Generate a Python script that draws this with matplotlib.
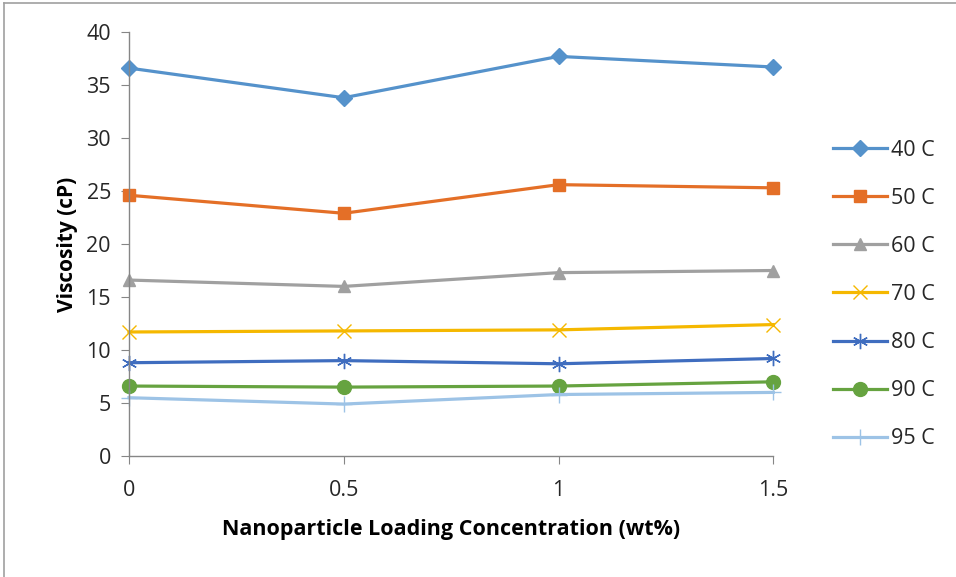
import matplotlib
matplotlib.use("Agg")
from matplotlib import pyplot as plt
from matplotlib.lines import Line2D

plt.rcParams['font.family'] = ['Open Sans', 'DejaVu Sans']

loading = [0, 0.5, 1, 1.5]
etiquetas = ["40 C", "50 C", "60 C", "70 C", "80 C", "90 C", "95 C"]
visc_40 = [36.6, 33.8, 37.7, 36.7]
visc_50 = [24.6, 22.9, 25.6, 25.3]
visc_60 = [16.6, 16.0, 17.3, 17.5]
visc_70 = [11.7, 11.8, 11.9, 12.4]
visc_80 = [8.8, 9.0, 8.7, 9.2]
visc_90 = [6.6, 6.5, 6.6, 7.0]
visc_95 = [5.5, 4.9, 5.8, 6.0]
series = [visc_40, visc_50, visc_60, visc_70, visc_80, visc_90, visc_95]

cores = ["#5592CB", "#E46F27", "#A0A0A0", "#F5B800", "#3F6DBF", "#66A340", "#9DC3E6"]
marcadores = ["D", "s", "^", "x", (6, 2, 0), "o", "+"]
tamanhos = [8, 9, 9, 10, 11, 10, 12]

fig = plt.figure(figsize=(9.56, 5.77), dpi=100)
ax = fig.add_axes([0.1349, 0.2097, 0.674, 0.7348])

for y, cor, m, ms, lab in zip(series, cores, marcadores, tamanhos, etiquetas):
    ax.plot(loading, y, color=cor, lw=2.3, marker=m, ms=ms,
            mec=cor, mfc=cor, mew=1.0, label=lab, clip_on=False)

ax.set_xlim(0, 1.5)
ax.set_ylim(0, 40)
ax.set_xticks([0, 0.5, 1, 1.5])
ax.set_xticklabels(["0", "0.5", "1", "1.5"])
ax.set_yticks(range(0, 41, 5))
for s in ["top", "right"]:
    ax.spines[s].set_visible(False)
for s in ["left", "bottom"]:
    ax.spines[s].set_color("#868686")
    ax.spines[s].set_linewidth(1.0)
ax.tick_params(axis="both", direction="out", length=6, color="#868686",
               labelsize=15.5, labelcolor="#262626")
ax.tick_params(axis="y", pad=7)
ax.tick_params(axis="x", pad=11)

ax.set_xlabel("Nanoparticle Loading Concentration (wt%)", fontsize=15.5,
              fontweight="bold", labelpad=13)
ax.set_ylabel("Viscosity (cP)", fontsize=15, fontweight="bold", labelpad=6)

fig.legend(loc="upper left", bbox_to_anchor=(0.862, 0.773), frameon=False,
           fontsize=15.5, labelspacing=1.26, handlelength=2.5,
           handletextpad=0.2, borderaxespad=0, labelcolor="#262626")

# borda do grafico
fig.add_artist(Line2D([0.0045, 0.0045], [0, 0.994], transform=fig.transFigure,
                      color="#A0A0A0", lw=1.2))
fig.add_artist(Line2D([0.0045, 1.0], [0.994, 0.994], transform=fig.transFigure,
                      color="#A0A0A0", lw=1.2))

fig.savefig("out.png", dpi=100)
